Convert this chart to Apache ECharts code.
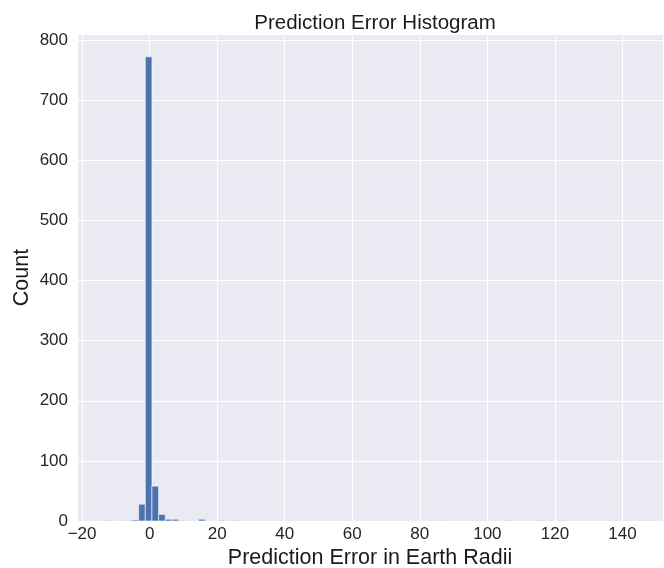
<!DOCTYPE html>
<html>
<head>
<meta charset="utf-8">
<script src="https://cdn.jsdelivr.net/npm/echarts@6/dist/echarts.min.js"></script>
<style>
html,body{margin:0;padding:0;background:#fff;}
#chart{width:664px;height:568px;}
</style>
</head>
<body>
<div id="chart"></div>
<script>
// Histogram data (bin left edges, counts)
var binWidth = 1.97;
var binLeft = [-13.10, -7.19, -5.22, -3.25, -1.28, 0.69, 2.66, 4.63, 6.60, 8.57, 14.48, 20.39, 24.33, 85.40, 105.10, 114.95, 120.86, 146.47];
var binCounts = [1, 1, 2, 28, 772, 58, 11, 3, 3, 1, 3, 1, 1, 1, 1, 1, 1, 1];
var yTicks = [0, 100, 200, 300, 400, 500, 600, 700, 800];

var data = binLeft.map(function (l, i) { return [l, binCounts[i], l + binWidth]; });

var chart = echarts.init(document.getElementById('chart'), null, { renderer: 'canvas' });
var font = 'Liberation Sans, Arial, sans-serif';
chart.setOption({
  animation: false,
  backgroundColor: '#ffffff',
  title: {
    text: 'Prediction Error Histogram',
    left: 370, top: 8, textAlign: 'center',
    textStyle: { fontFamily: font, fontSize: 20.5, fontWeight: 'normal', color: '#1a1a1a' }
  },
  grid: {
    left: 77, right: 1, top: 34, bottom: 47,
    containLabel: false, outerBoundsMode: 'none',
    show: true, backgroundColor: '#EAEAF2', borderWidth: 0
  },
  xAxis: {
    type: 'value', min: -21.5, max: 152, splitNumber: 9,
    axisLine: { show: false }, axisTick: { show: false },
    splitLine: { show: true, lineStyle: { color: '#ffffff', width: 1 } },
    axisLabel: {
      showMinLabel: false, showMaxLabel: false, color: '#262626', fontFamily: font, fontSize: 17, margin: 5,
      formatter: function (v) { return String(v).replace('-', '\u2212'); }
    },
    name: 'Prediction Error in Earth Radii', nameLocation: 'middle', nameGap: 26,
    nameMoveOverlap: false,
    nameTextStyle: { fontFamily: font, fontSize: 21.5, color: '#1a1a1a' }
  },
  yAxis: {
    type: 'value', min: 0, max: 810, interval: 100,
    axisLine: { show: false }, axisTick: { show: false },
    splitLine: { show: true, lineStyle: { color: '#ffffff', width: 1 } },
    axisLabel: {
      showMaxLabel: false, color: '#262626', fontFamily: font, fontSize: 17, margin: 9,
      formatter: function (v) { return yTicks.indexOf(v) >= 0 ? String(v) : ''; }
    },
    name: 'Count', nameLocation: 'middle', nameGap: 44,
    nameMoveOverlap: false,
    nameTextStyle: { fontFamily: font, fontSize: 21.5, color: '#1a1a1a' }
  },
  series: [{
    type: 'custom',
    clip: true,
    data: data,
    encode: { x: [0, 2], y: 1 },
    renderItem: function (params, api) {
      var p0 = api.coord([api.value(0), api.value(1)]);
      var p1 = api.coord([api.value(2), 0]);
      return {
        type: 'rect',
        shape: { x: p0[0], y: p0[1], width: p1[0] - p0[0], height: p1[1] - p0[1] },
        style: { fill: '#4C72B0', stroke: '#ffffff', lineWidth: 0.6 }
      };
    }
  }]
});
</script>
</body>
</html>
